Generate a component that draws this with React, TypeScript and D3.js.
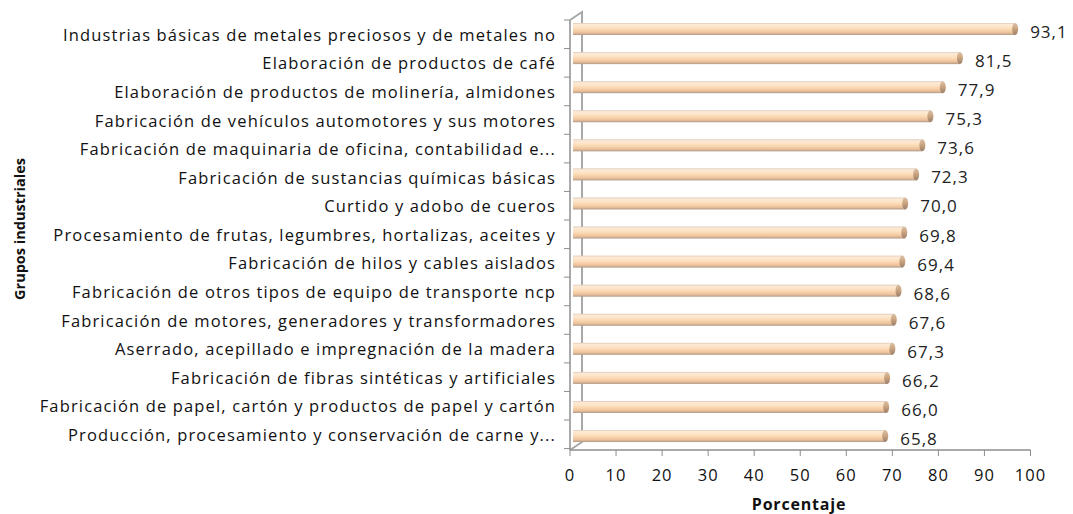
import React from "react";
import * as d3 from "d3";

const categories: string[] = [
  "Industrias básicas de metales preciosos y de metales no",
  "Elaboración de productos de café",
  "Elaboración de productos de molinería, almidones",
  "Fabricación de vehículos automotores y sus motores",
  "Fabricación de maquinaria de oficina, contabilidad e...",
  "Fabricación de sustancias químicas básicas",
  "Curtido y adobo de cueros",
  "Procesamiento de frutas, legumbres, hortalizas, aceites y",
  "Fabricación de hilos y cables aislados",
  "Fabricación de otros tipos de equipo de transporte ncp",
  "Fabricación de motores, generadores y transformadores",
  "Aserrado, acepillado e impregnación de la madera",
  "Fabricación de fibras sintéticas y artificiales",
  "Fabricación de papel, cartón y productos de papel y cartón",
  "Producción, procesamiento y conservación de carne y...",
];

const values: number[] = [93.1, 81.5, 77.9, 75.3, 73.6, 72.3, 70.0, 69.8, 69.4, 68.6, 67.6, 67.3, 66.2, 66.0, 65.8];

const xTicks: number[] = [0, 10, 20, 30, 40, 50, 60, 70, 80, 90, 100];

const xAxisTitle = "Porcentaje";
const yAxisTitle = "Grupos industriales";

const W = 1073;
const H = 514;
const FONT = "'Open Sans', 'Noto Sans', sans-serif";

export default function App() {
  // front axis plane
  const xAxis = d3.scaleLinear().domain([0, 100]).range([570, 1030.5]);
  // bars sit at mid depth (perspective)
  const xBar = d3.scaleLinear().domain([0, 100]).range([572, 1048]);
  const yLabel = d3.scaleBand<string>().domain(categories).range([20, 448.6]);
  const yBar = d3.scaleBand<string>().domain(categories).range([14.5, 450.6]);

  const left = xAxis(0);
  const bottom = 450;
  const top = 20;
  const dx = 12;
  const dy = -8;
  const barH = 12;
  const fmt = (v: number) => v.toFixed(1).replace(".", ",");
  const axisColor = "#8e8e8e";

  return (
    <div style={{ position: "absolute", left: 0, top: 0 }}>
      <svg width={W} height={H} style={{ display: "block", background: "#fff" }}>
        <defs>
          <linearGradient id="cyl" x1="0" y1="0" x2="0" y2="1">
            <stop offset="0" stopColor="#dcc6b4" />
            <stop offset="0.12" stopColor="#fce9d6" />
            <stop offset="0.35" stopColor="#fde4c6" />
            <stop offset="0.6" stopColor="#f9d3ac" />
            <stop offset="0.82" stopColor="#e9bf9a" />
            <stop offset="1" stopColor="#b09a88" />
          </linearGradient>
          <linearGradient id="cap" x1="0" y1="0" x2="0" y2="1">
            <stop offset="0" stopColor="#d9c0a8" />
            <stop offset="0.4" stopColor="#cfa985" />
            <stop offset="1" stopColor="#9c7e68" />
          </linearGradient>
        </defs>

        {/* back wall edge */}
        <path
          d={`M${left},${top} L${left + dx},${top + dy} L${left + dx},${bottom + dy} L${left},${bottom}`}
          fill="none"
          stroke="#a8a8a8"
          strokeWidth={2}
        />

        {/* bars */}
        {categories.map((c, i) => {
          const cy = (yBar(c) as number) + yBar.bandwidth() / 2;
          const x0 = xBar(0) + 1;
          const x1 = xBar(values[i]);
          return (
            <g key={c}>
              <rect x={x0} y={cy - barH / 2} width={x1 - x0} height={barH} fill="url(#cyl)" />
              <ellipse cx={x1} cy={cy} rx={3} ry={barH / 2} fill="url(#cap)" />
              <text
                x={x1 + 15}
                y={cy + 2.5}
                fontFamily={FONT}
                fontSize={17}
                letterSpacing={1}
                fill="#222"
                dominantBaseline="central"
              >
                {fmt(values[i])}
              </text>
            </g>
          );
        })}

        {/* front category axis */}
        <line x1={left} y1={top} x2={left} y2={bottom} stroke={axisColor} strokeWidth={1.5} />
        {d3.range(categories.length + 1).map((k) => {
          const y = top + k * yLabel.step();
          return <line key={k} x1={left - 6} x2={left} y1={y} y2={y} stroke={axisColor} strokeWidth={1} />;
        })}

        {/* category labels */}
        {categories.map((c) => (
          <text
            key={c}
            x={556}
            y={(yLabel(c) as number) + yLabel.bandwidth() / 2}
            textAnchor="end"
            dominantBaseline="central"
            fontFamily={FONT}
            fontSize={16.5}
            letterSpacing={1.15}
            fill="#111"
          >
            {c}
          </text>
        ))}

        {/* value axis */}
        <line x1={left} y1={bottom} x2={xAxis(100)} y2={bottom} stroke={axisColor} strokeWidth={1.5} />
        {xTicks.map((t) => (
          <g key={t}>
            <line x1={xAxis(t)} x2={xAxis(t)} y1={bottom} y2={bottom + 6} stroke={axisColor} strokeWidth={1} />
            <text
              x={xAxis(t)}
              y={474}
              textAnchor="middle"
              dominantBaseline="central"
              fontFamily={FONT}
              fontSize={16.5}
              letterSpacing={1}
              fill="#111"
            >
              {t}
            </text>
          </g>
        ))}

        <text
          x={799}
          y={504}
          textAnchor="middle"
          dominantBaseline="central"
          fontFamily={FONT}
          fontSize={16}
          fontWeight="bold"
          letterSpacing={0.8}
          fill="#111"
        >
          {xAxisTitle}
        </text>
        <text
          transform={`translate(19,229) rotate(-90)`}
          textAnchor="middle"
          dominantBaseline="central"
          fontFamily={FONT}
          fontSize={14.5}
          fontWeight="bold"
          fill="#111"
        >
          {yAxisTitle}
        </text>
      </svg>
    </div>
  );
}
